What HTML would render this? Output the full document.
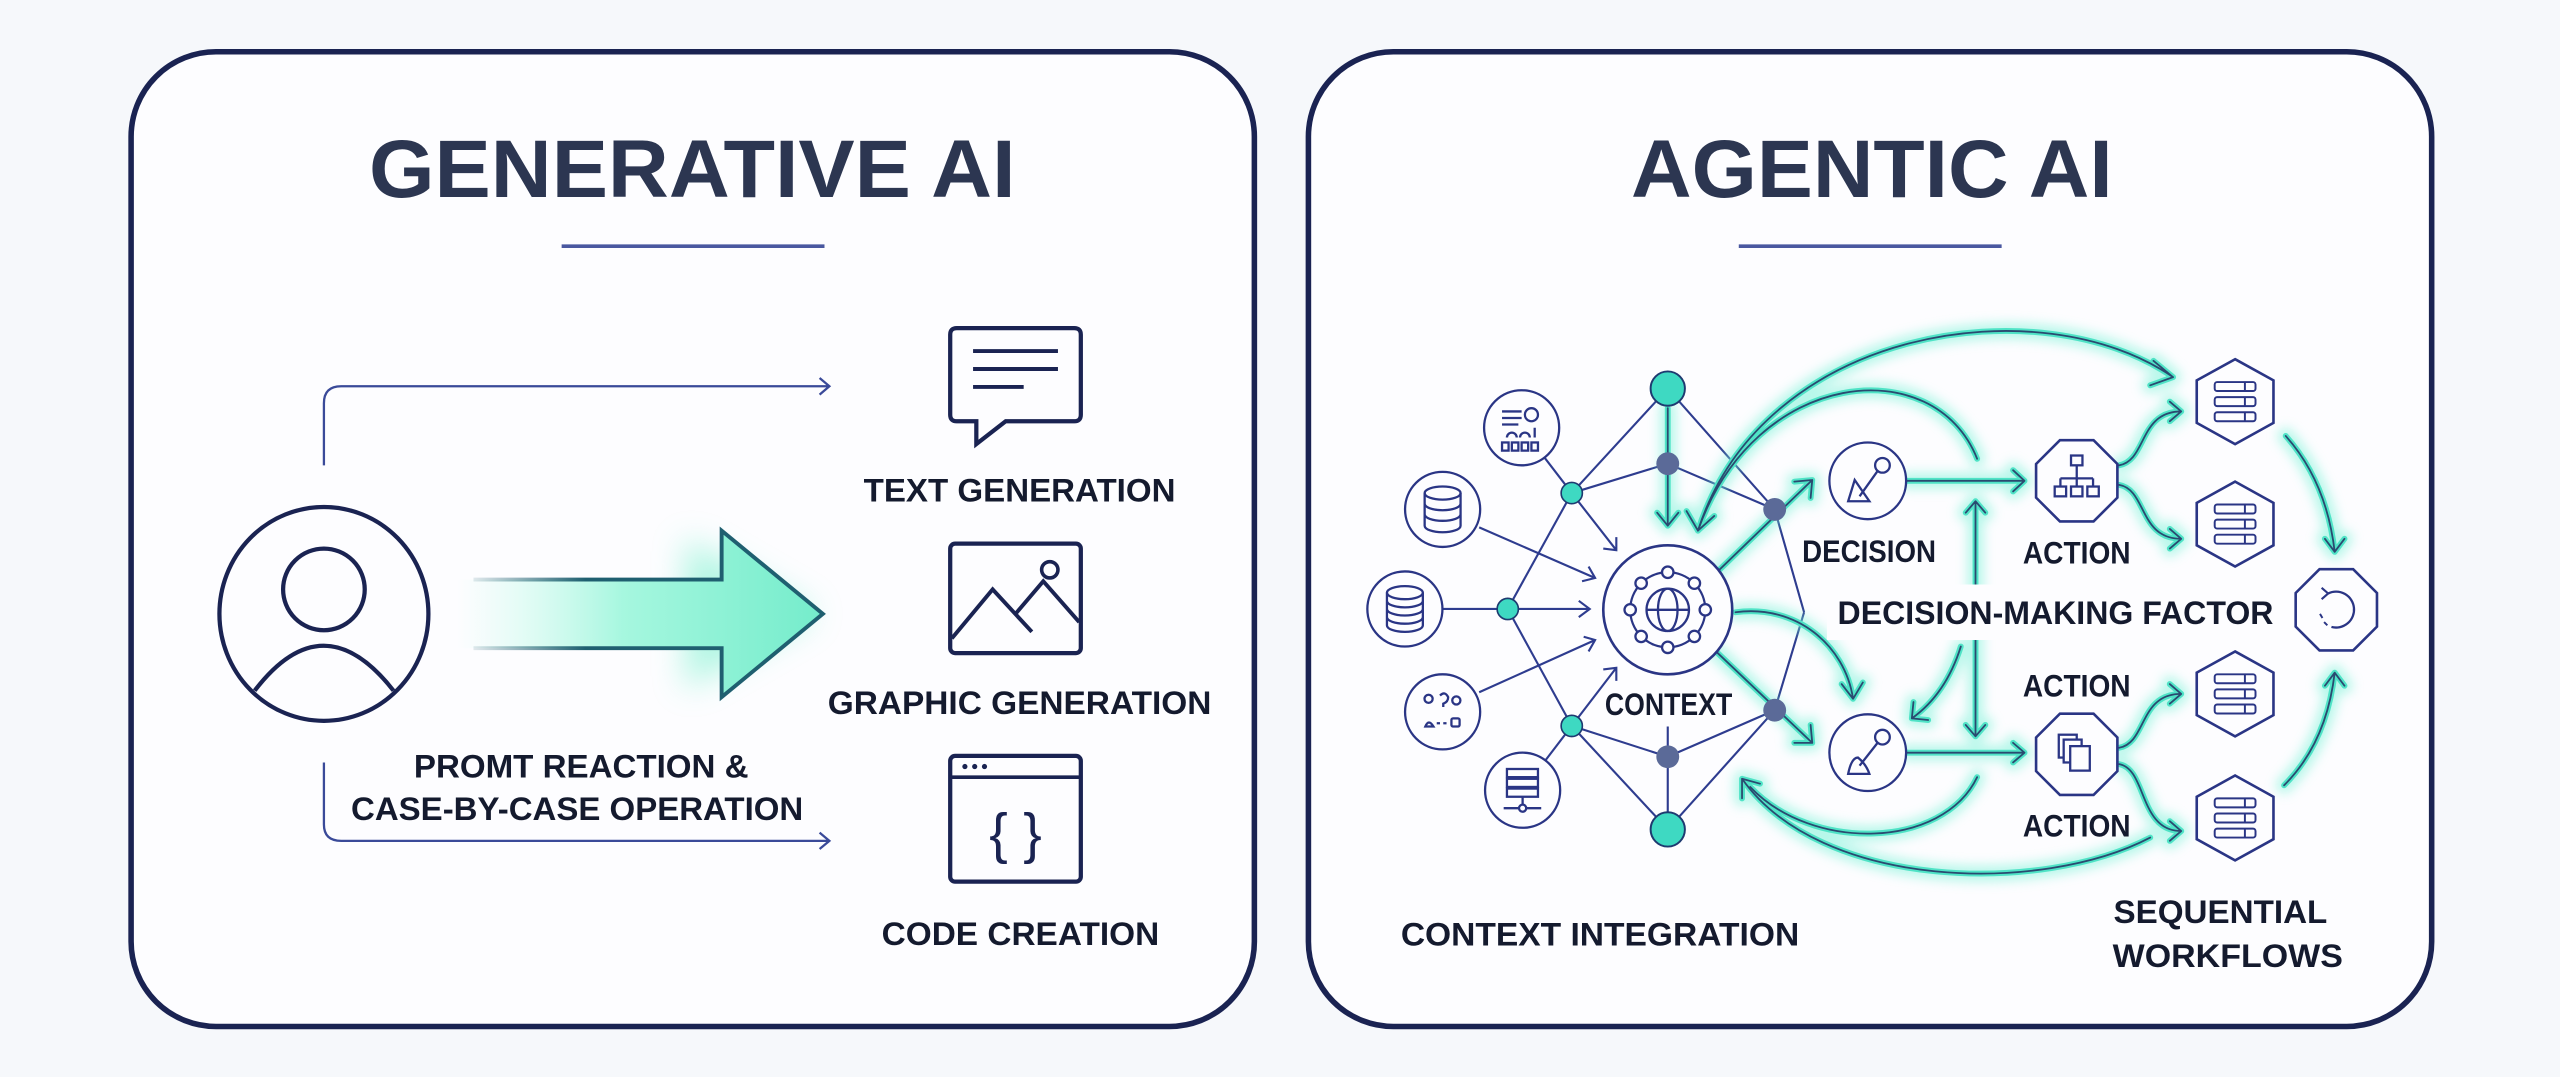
<!DOCTYPE html>
<html><head><meta charset="utf-8"><style>
html,body{margin:0;padding:0;background:#f6f8fb;}
svg{display:block;}
text{font-family:"Liberation Sans",sans-serif;font-weight:bold;}
.ln{stroke:#2e3c8f;stroke-width:1.3;fill:none;}
.ic{stroke:#2a3585;stroke-width:1.4;fill:none;}
.gl{stroke:#74f2d6;stroke-width:10;opacity:.5;fill:none;filter:url(#bl);stroke-linecap:round;stroke-linejoin:round;}
.gc{stroke:#4fe3c6;stroke-width:3.6;fill:none;stroke-linecap:round;stroke-linejoin:round;}
.gd{stroke:#2a4a70;stroke-width:1.1;fill:none;stroke-linecap:round;stroke-linejoin:round;}
</style></head><body>
<svg width="2560" height="1077" viewBox="0 0 1568 659.65" preserveAspectRatio="none" xmlns="http://www.w3.org/2000/svg">
<defs>
<filter id="bl" x="-20%" y="-20%" width="140%" height="140%"><feGaussianBlur stdDeviation="3.5"/></filter>
<filter id="bl2" x="-30%" y="-50%" width="160%" height="200%"><feGaussianBlur stdDeviation="10"/></filter>
<linearGradient id="ag" x1="280" y1="0" x2="505" y2="0" gradientUnits="userSpaceOnUse">
<stop offset="0" stop-color="#c9fbec" stop-opacity="0"/><stop offset="0.45" stop-color="#a6f7df"/><stop offset="1" stop-color="#74eccb"/></linearGradient>
<linearGradient id="as" x1="280" y1="0" x2="505" y2="0" gradientUnits="userSpaceOnUse">
<stop offset="0" stop-color="#1f5f70" stop-opacity="0"/><stop offset="0.35" stop-color="#1f5f70"/><stop offset="1" stop-color="#1f5f70"/></linearGradient>
<path id="p1" d="M1040,325 C1080,200 1250,175 1331,231 M1319,221 L1331,231 L1317,236"/>
<path id="p2" d="M1211,281 C1185,215 1075,225 1040,325 M1033,313 L1040,325 L1050,316"/>
<path id="p3" d="M1021.5,250 L1021.5,322 M1015,314 L1021.5,322 L1028,314"/>
<path id="p4" d="M1050,352 L1110,294 M1099,295 L1110,294 L1109,305"/>
<path id="p5" d="M1050,398 L1110,455 M1109,444 L1110,455 L1099,455"/>
<path id="p6" d="M1063,375 C1100,370 1130,395 1135,428 M1128,419 L1135,428 L1141,418"/>
<path id="p7" d="M1201,396 C1195,415 1185,430 1171,440 M1172,430 L1171,440 L1181,441"/>
<path id="p8" d="M1168,294.5 L1240,294.5 M1233,288 L1240,294.5 L1233,301"/>
<path id="p9" d="M1168,461 L1240,461 M1233,455 L1240,461 L1233,467"/>
<path id="p10" d="M1210,307 L1210,451 M1204,314 L1210,307 L1216,314 M1204,444 L1210,451 L1216,444"/>
<path id="p11" d="M1298,285 C1315,282 1310,252 1336,252 M1329,246 L1336,252 L1329,258"/>
<path id="p12" d="M1298,297 C1315,300 1310,330 1336,330 M1329,324 L1336,330 L1329,336"/>
<path id="p13" d="M1298,458 C1315,455 1310,425 1336,425 M1329,419 L1336,425 L1329,431"/>
<path id="p14" d="M1298,468 C1315,471 1310,509 1336,509 M1329,503 L1336,509 L1329,515"/>
<path id="p15" d="M1400,267 Q1425,295 1430,338 M1424,330 L1430,338 L1436,330"/>
<path id="p16" d="M1399,481 Q1425,455 1430,412 M1424,420 L1430,412 L1436,420"/>
<path id="p17" d="M1317,513 C1250,548 1115,545 1067,477 M1067,489 L1067,477 L1078,480"/>
<path id="p18" d="M1211,476 C1190,520 1110,522 1072,482"/>
<g id="allp"><use href="#p1"/><use href="#p2"/><use href="#p3"/><use href="#p4"/><use href="#p5"/><use href="#p6"/><use href="#p7"/><use href="#p8"/><use href="#p9"/><use href="#p10"/><use href="#p11"/><use href="#p12"/><use href="#p13"/><use href="#p14"/><use href="#p15"/><use href="#p16"/><use href="#p17"/><use href="#p18"/></g>
<polygon id="oct" points="10.3,-24.9 24.9,-10.3 24.9,10.3 10.3,24.9 -10.3,24.9 -24.9,10.3 -24.9,-10.3 -10.3,-24.9"/>
<polygon id="hex" points="0,-26 23.5,-13 23.5,13 0,26 -23.5,13 -23.5,-13"/>
<g id="bars"><rect x="-12.5" y="-12" width="25" height="5.5" rx="1.5"/><rect x="-12.5" y="-2.75" width="25" height="5.5" rx="1.5"/><rect x="-12.5" y="6.5" width="25" height="5.5" rx="1.5"/><line x1="6" y1="-12" x2="6" y2="-6.5"/><line x1="6" y1="-2.75" x2="6" y2="2.75"/><line x1="6" y1="6.5" x2="6" y2="12"/></g>
</defs>

<rect x="0" y="0" width="1568" height="660" fill="#f6f8fb"/>
<rect x="80.3" y="31.7" width="688" height="597" rx="52" fill="#fdfdff" stroke="#1a2352" stroke-width="3.4"/>
<rect x="801.4" y="31.7" width="688" height="597" rx="52" fill="#fdfdff" stroke="#1a2352" stroke-width="3.4"/>

<text x="424" y="120.6" font-size="50" fill="#2c3651" text-anchor="middle" textLength="396" lengthAdjust="spacingAndGlyphs">GENERATIVE AI</text>
<line x1="344" y1="150.8" x2="505" y2="150.8" stroke="#4a58a0" stroke-width="2.2"/>
<text x="1146.5" y="120.6" font-size="50" fill="#2c3651" text-anchor="middle" textLength="295" lengthAdjust="spacingAndGlyphs">AGENTIC AI</text>
<line x1="1065" y1="150.8" x2="1226" y2="150.8" stroke="#4a58a0" stroke-width="2.2"/>

<ellipse cx="198.4" cy="376" rx="64" ry="65.5" fill="none" stroke="#1a2352" stroke-width="2.6"/>
<circle cx="198.4" cy="361" r="25" fill="none" stroke="#1a2352" stroke-width="2.6"/>
<path d="M156,423 Q198,368 241,423" fill="none" stroke="#1a2352" stroke-width="2.6"/>
<path d="M198.4,285 L198.4,247 Q198.4,236.6 209,236.6 L508,236.6 M502,231.5 L508,236.6 L502,241.7" fill="none" stroke="#3a4a99" stroke-width="1.4"/>
<path d="M198.4,467 L198.4,505 Q198.4,515 209,515 L508,515 M502,510 L508,515 L502,520" fill="none" stroke="#3a4a99" stroke-width="1.4"/>
<polygon points="420,330 500,376 420,422" fill="#8ff3d6" opacity="0.7" filter="url(#bl2)"/>
<polygon points="280,355 442,355 442,325 504,376 442,427 442,397 280,397" fill="url(#ag)"/>
<polyline points="290,355 442,355 442,325 504,376 442,427 442,397 290,397" fill="none" stroke="url(#as)" stroke-width="2.4"/>
<path d="M586,201 L658,201 Q662,201 662,205 L662,254 Q662,258 658,258 L616,258 L598,272 L598,258 L586,258 Q582,258 582,254 L582,205 Q582,201 586,201 Z" fill="none" stroke="#1a2352" stroke-width="2.6"/>
<line x1="596" y1="215" x2="648" y2="215" stroke="#1a2352" stroke-width="2.4"/>
<line x1="596" y1="226" x2="648" y2="226" stroke="#1a2352" stroke-width="2.4"/>
<line x1="596" y1="237" x2="627" y2="237" stroke="#1a2352" stroke-width="2.4"/>
<text x="624.5" y="307.2" font-size="20" fill="#141a2e" text-anchor="middle" textLength="191" lengthAdjust="spacingAndGlyphs">TEXT GENERATION</text>
<rect x="582" y="333" width="80" height="67" rx="3" fill="none" stroke="#1a2352" stroke-width="2.6"/>
<polyline points="583,391 608,361 632,387" fill="none" stroke="#1a2352" stroke-width="2.4"/>
<polyline points="622,376 639,356 661,381" fill="none" stroke="#1a2352" stroke-width="2.4"/>
<circle cx="643" cy="349" r="5" fill="none" stroke="#1a2352" stroke-width="2.2"/>
<text x="624.5" y="437.2" font-size="20" fill="#141a2e" text-anchor="middle" textLength="235" lengthAdjust="spacingAndGlyphs">GRAPHIC GENERATION</text>
<rect x="582" y="463" width="80" height="77" rx="3" fill="none" stroke="#1a2352" stroke-width="2.6"/>
<line x1="582" y1="476" x2="662" y2="476" stroke="#1a2352" stroke-width="2.2"/>
<circle cx="591" cy="469.5" r="1.6" fill="#1a2352"/><circle cx="597" cy="469.5" r="1.6" fill="#1a2352"/><circle cx="603" cy="469.5" r="1.6" fill="#1a2352"/>
<text x="622" y="522" font-size="34" fill="#1a2352" text-anchor="middle" style="font-weight:normal">{ }</text>
<text x="625" y="578.7" font-size="20" fill="#141a2e" text-anchor="middle" textLength="170" lengthAdjust="spacingAndGlyphs">CODE CREATION</text>
<text x="356" y="476.2" font-size="20" fill="#141a2e" text-anchor="middle" textLength="205" lengthAdjust="spacingAndGlyphs">PROMT REACTION &amp;</text>
<text x="353.5" y="502.2" font-size="20" fill="#141a2e" text-anchor="middle" textLength="277" lengthAdjust="spacingAndGlyphs">CASE-BY-CASE OPERATION</text>

<g class="ln">
<line x1="932" y1="262" x2="962.7" y2="302"/>
<line x1="962.7" y1="302" x2="1021.5" y2="238"/>
<line x1="962.7" y1="302" x2="1021.5" y2="284"/>
<line x1="1021.5" y1="284" x2="1087" y2="312"/>
<line x1="1021.5" y1="238" x2="1087" y2="312"/>
<line x1="962.7" y1="302" x2="923.5" y2="373"/>
<line x1="923.5" y1="373" x2="962.7" y2="444.6"/>
<path d="M962.7,302 L990,337 M982,336 L990,337 L990,329"/>
<path d="M906,323 L977,354 M969,356 L977,354 L973,347"/>
<path d="M883,373 L973.7,373 M967,368 L973.7,373 L967,378"/>
<path d="M906,424 L977,392 M970,390 L977,392 L973,399"/>
<path d="M962.7,444.6 L990,409 M982,410 L990,409 L990,417"/>
<line x1="932.6" y1="484" x2="962.7" y2="444.6"/>
<line x1="962.7" y1="444.6" x2="1021.5" y2="463.5"/>
<line x1="1021.5" y1="463.5" x2="1087" y2="435"/>
<line x1="962.7" y1="444.6" x2="1021.5" y2="508"/>
<line x1="1021.5" y1="508" x2="1087" y2="435"/>
<line x1="1021.5" y1="445" x2="1021.5" y2="508"/>
<line x1="1087" y1="312" x2="1105" y2="375"/>
<line x1="1105" y1="375" x2="1087" y2="435"/>
</g>
<g class="gl"><use href="#allp"/></g>
<g class="gc"><use href="#allp"/></g>
<g class="gd"><use href="#allp"/></g>

<circle cx="1021.5" cy="238" r="10.5" fill="#3ed9c2" stroke="#1e3a70" stroke-width="1.2"/>
<circle cx="1021.5" cy="508" r="10.5" fill="#3ed9c2" stroke="#1e3a70" stroke-width="1.2"/>
<circle cx="962.7" cy="302" r="6.5" fill="#3ed9c2" stroke="#1e3a70" stroke-width="1"/>
<circle cx="923.5" cy="373" r="6.5" fill="#3ed9c2" stroke="#1e3a70" stroke-width="1"/>
<circle cx="962.7" cy="444.6" r="6.5" fill="#3ed9c2" stroke="#1e3a70" stroke-width="1"/>
<circle cx="1021.5" cy="284" r="7" fill="#5b6a98"/>
<circle cx="1021.5" cy="463.5" r="7" fill="#5b6a98"/>
<circle cx="1087" cy="312" r="7" fill="#5b6a98"/>
<circle cx="1087" cy="435" r="7" fill="#5b6a98"/>

<circle cx="1021.5" cy="373.5" r="39.5" fill="#fdfdff" stroke="#2a3585" stroke-width="1.6"/>
<g class="ic" stroke-width="1.4">
<circle cx="1021.5" cy="373.5" r="23"/>
<circle cx="1021.5" cy="373.5" r="13" fill="#fdfdff"/>
<ellipse cx="1021.5" cy="373.5" rx="6" ry="13"/>
<line x1="1008.5" y1="373.5" x2="1034.5" y2="373.5"/>
<circle cx="1021.5" cy="350.5" r="3.5" fill="#fdfdff"/><circle cx="1021.5" cy="396.5" r="3.5" fill="#fdfdff"/>
<circle cx="998.5" cy="373.5" r="3.5" fill="#fdfdff"/><circle cx="1044.5" cy="373.5" r="3.5" fill="#fdfdff"/>
<circle cx="1005.2" cy="357.2" r="3.5" fill="#fdfdff"/><circle cx="1037.8" cy="357.2" r="3.5" fill="#fdfdff"/>
<circle cx="1005.2" cy="389.8" r="3.5" fill="#fdfdff"/><circle cx="1037.8" cy="389.8" r="3.5" fill="#fdfdff"/>
</g>
<text x="1022" y="437.9" font-size="19" fill="#141a2e" text-anchor="middle" textLength="78" lengthAdjust="spacingAndGlyphs">CONTEXT</text>

<g class="ic">
<circle cx="932" cy="262" r="23" fill="#fdfdff"/>
<line x1="920" y1="252" x2="932" y2="252"/><line x1="920" y1="256" x2="932" y2="256"/><line x1="920" y1="260" x2="930" y2="260"/>
<circle cx="938" cy="254" r="4"/><path d="M923,268 a3,3 0 0 1 6,0 M931,268 a3,3 0 0 1 6,0 M940,262 v6"/>
<rect x="920" y="271" width="4" height="5"/><rect x="926" y="271" width="4" height="5"/><rect x="932" y="271" width="4" height="5"/><rect x="938" y="271" width="4" height="5"/>
<circle cx="883.6" cy="312" r="23" fill="#fdfdff"/>
<ellipse cx="883.6" cy="302" rx="11" ry="4"/><path d="M872.6,302 v20 a11,4 0 0 0 22,0 v-20 M872.6,308.5 a11,4 0 0 0 22,0 M872.6,315 a11,4 0 0 0 22,0"/>
<circle cx="860.5" cy="373" r="23" fill="#fdfdff"/>
<ellipse cx="860.5" cy="363" rx="11" ry="4"/><path d="M849.5,363 v20 a11,4 0 0 0 22,0 v-20 M849.5,368 a11,4 0 0 0 22,0 M849.5,373 a11,4 0 0 0 22,0 M849.5,378 a11,4 0 0 0 22,0"/>
<circle cx="883.6" cy="436" r="23" fill="#fdfdff"/>
<circle cx="875" cy="428" r="2.5"/><path d="M882,426 q3,-3 5,1 q0,3 -3,4 v2"/><circle cx="892" cy="429" r="2.5"/>
<path d="M873,445 q2,-5 5,0 z" /><path d="M880,443 h8" stroke-dasharray="2 2"/><rect x="889" y="440" width="5" height="5" rx="1"/>
<circle cx="932.6" cy="484" r="23" fill="#fdfdff"/>
<rect x="923" y="471" width="19" height="5"/><rect x="923" y="477" width="19" height="5"/><rect x="923" y="483" width="19" height="5"/>
<line x1="932.6" y1="488" x2="932.6" y2="493"/><line x1="921" y1="495" x2="944" y2="495"/><circle cx="932.6" cy="495" r="2.2" fill="#fdfdff"/>
</g>

<g class="ic">
<circle cx="1144" cy="294.5" r="23.5" fill="#fdfdff"/>
<circle cx="1153" cy="285" r="4.5"/><line x1="1150" y1="288.5" x2="1139" y2="304"/><path d="M1132,307 L1136,294 L1145,307 Z"/>
<circle cx="1144" cy="461" r="23.5" fill="#fdfdff"/>
<circle cx="1153" cy="451.5" r="4.5"/><line x1="1150" y1="455" x2="1139" y2="469"/><path d="M1132,474 q2,-10 6,-10 q5,4 7,10 Z"/>
</g>
<text x="1144.8" y="344.2" font-size="19" fill="#141a2e" text-anchor="middle" textLength="82" lengthAdjust="spacingAndGlyphs">DECISION</text>

<use href="#oct" x="1272" y="294.5" fill="#fdfdff" stroke="#2a3585" stroke-width="1.6"/>
<g class="ic" stroke-width="1.2">
<rect x="1268.5" y="279" width="7" height="6"/><line x1="1272" y1="285" x2="1272" y2="293"/><line x1="1262" y1="293" x2="1282" y2="293"/>
<line x1="1262" y1="293" x2="1262" y2="298"/><line x1="1272" y1="293" x2="1272" y2="298"/><line x1="1282" y1="293" x2="1282" y2="298"/>
<rect x="1258.5" y="298" width="7" height="6"/><rect x="1268.5" y="298" width="7" height="6"/><rect x="1278.5" y="298" width="7" height="6"/>
</g>
<use href="#oct" x="1272" y="462" fill="#fdfdff" stroke="#2a3585" stroke-width="1.6"/>
<g class="ic" stroke-width="1.2">
<rect x="1261" y="450" width="11" height="14" fill="#fdfdff"/><rect x="1264" y="453" width="11" height="14" fill="#fdfdff"/><rect x="1268" y="457" width="12" height="15" fill="#fdfdff"/>
</g>
<rect x="1119" y="358" width="278" height="34" fill="#fdfdff"/>
<text x="1259" y="382.2" font-size="20" fill="#141a2e" text-anchor="middle" textLength="267" lengthAdjust="spacingAndGlyphs">DECISION-MAKING FACTOR</text>
<text x="1272" y="345.2" font-size="19" fill="#141a2e" text-anchor="middle" textLength="66" lengthAdjust="spacingAndGlyphs">ACTION</text>
<text x="1272" y="426.7" font-size="19" fill="#141a2e" text-anchor="middle" textLength="66" lengthAdjust="spacingAndGlyphs">ACTION</text>
<text x="1272" y="512.2" font-size="19" fill="#141a2e" text-anchor="middle" textLength="66" lengthAdjust="spacingAndGlyphs">ACTION</text>

<g fill="#fdfdff" stroke="#2a3585" stroke-width="1.6">
<use href="#hex" x="1369" y="246"/><use href="#hex" x="1369" y="321"/><use href="#hex" x="1369" y="425"/><use href="#hex" x="1369" y="501"/>
</g>
<g fill="none" stroke="#2a3585" stroke-width="1.2">
<use href="#bars" x="1369" y="246"/><use href="#bars" x="1369" y="321"/><use href="#bars" x="1369" y="425"/><use href="#bars" x="1369" y="501"/>
</g>
<g transform="translate(1431,373.5) scale(1.0)"><use href="#oct" fill="#fdfdff" stroke="#2a3585" stroke-width="1.6"/></g>
<path d="M1426,363.5 A11,11 0 1 1 1428,384" fill="none" stroke="#2a3585" stroke-width="1.4"/>
<path d="M1421,376 l1.5,2.5 M1423.5,381 l2,2" stroke="#2a3585" stroke-width="1.2"/>
<path d="M1422,360 L1426,363.5 L1422,367" fill="none" stroke="#2a3585" stroke-width="1.3"/>

<text x="980" y="579.2" font-size="20" fill="#141a2e" text-anchor="middle" textLength="244" lengthAdjust="spacingAndGlyphs">CONTEXT INTEGRATION</text>
<text x="1360" y="565.2" font-size="20" fill="#141a2e" text-anchor="middle" textLength="131" lengthAdjust="spacingAndGlyphs">SEQUENTIAL</text>
<text x="1364.5" y="592.2" font-size="20" fill="#141a2e" text-anchor="middle" textLength="141" lengthAdjust="spacingAndGlyphs">WORKFLOWS</text>
</svg>
</body></html>
